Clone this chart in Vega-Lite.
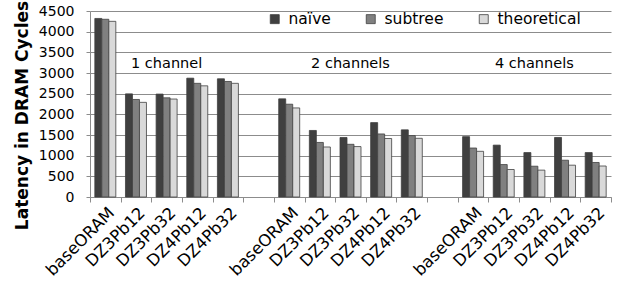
{
  "$schema": "https://vega.github.io/schema/vega-lite/v6.json",
  "width": 521,
  "height": 186,
  "autosize": {"type": "none"},
  "padding": {"left": 90, "top": 11, "right": 18, "bottom": 86},
  "background": "white",
  "config": {
    "view": {"stroke": null},
    "font": "DejaVu Sans"
  },
  "datasets": {
    "bars": [
      {"cat": "1|baseORAM", "series": "naïve", "value": 4320},
      {"cat": "1|baseORAM", "series": "subtree", "value": 4300},
      {"cat": "1|baseORAM", "series": "theoretical", "value": 4250},
      {"cat": "1|DZ3Pb12", "series": "naïve", "value": 2495},
      {"cat": "1|DZ3Pb12", "series": "subtree", "value": 2360},
      {"cat": "1|DZ3Pb12", "series": "theoretical", "value": 2290},
      {"cat": "1|DZ3Pb32", "series": "naïve", "value": 2490},
      {"cat": "1|DZ3Pb32", "series": "subtree", "value": 2400},
      {"cat": "1|DZ3Pb32", "series": "theoretical", "value": 2370},
      {"cat": "1|DZ4Pb12", "series": "naïve", "value": 2875},
      {"cat": "1|DZ4Pb12", "series": "subtree", "value": 2750},
      {"cat": "1|DZ4Pb12", "series": "theoretical", "value": 2690},
      {"cat": "1|DZ4Pb32", "series": "naïve", "value": 2860},
      {"cat": "1|DZ4Pb32", "series": "subtree", "value": 2795},
      {"cat": "1|DZ4Pb32", "series": "theoretical", "value": 2750},
      {"cat": "2|baseORAM", "series": "naïve", "value": 2375},
      {"cat": "2|baseORAM", "series": "subtree", "value": 2245},
      {"cat": "2|baseORAM", "series": "theoretical", "value": 2155},
      {"cat": "2|DZ3Pb12", "series": "naïve", "value": 1610},
      {"cat": "2|DZ3Pb12", "series": "subtree", "value": 1320},
      {"cat": "2|DZ3Pb12", "series": "theoretical", "value": 1210},
      {"cat": "2|DZ3Pb32", "series": "naïve", "value": 1440},
      {"cat": "2|DZ3Pb32", "series": "subtree", "value": 1275},
      {"cat": "2|DZ3Pb32", "series": "theoretical", "value": 1220},
      {"cat": "2|DZ4Pb12", "series": "naïve", "value": 1800},
      {"cat": "2|DZ4Pb12", "series": "subtree", "value": 1525},
      {"cat": "2|DZ4Pb12", "series": "theoretical", "value": 1415},
      {"cat": "2|DZ4Pb32", "series": "naïve", "value": 1625},
      {"cat": "2|DZ4Pb32", "series": "subtree", "value": 1485},
      {"cat": "2|DZ4Pb32", "series": "theoretical", "value": 1420},
      {"cat": "4|baseORAM", "series": "naïve", "value": 1460},
      {"cat": "4|baseORAM", "series": "subtree", "value": 1185},
      {"cat": "4|baseORAM", "series": "theoretical", "value": 1105},
      {"cat": "4|DZ3Pb12", "series": "naïve", "value": 1255},
      {"cat": "4|DZ3Pb12", "series": "subtree", "value": 785},
      {"cat": "4|DZ3Pb12", "series": "theoretical", "value": 665},
      {"cat": "4|DZ3Pb32", "series": "naïve", "value": 1075},
      {"cat": "4|DZ3Pb32", "series": "subtree", "value": 745},
      {"cat": "4|DZ3Pb32", "series": "theoretical", "value": 650},
      {"cat": "4|DZ4Pb12", "series": "naïve", "value": 1440},
      {"cat": "4|DZ4Pb12", "series": "subtree", "value": 890},
      {"cat": "4|DZ4Pb12", "series": "theoretical", "value": 770},
      {"cat": "4|DZ4Pb32", "series": "naïve", "value": 1075},
      {"cat": "4|DZ4Pb32", "series": "subtree", "value": 835},
      {"cat": "4|DZ4Pb32", "series": "theoretical", "value": 750}
    ],
    "groups": [
      {"cat": "1|DZ3Pb32", "label": "1 channel", "value": 3220},
      {"cat": "2|DZ3Pb32", "label": "2 channels", "value": 3220},
      {"cat": "4|DZ3Pb32", "label": "4 channels", "value": 3220}
    ]
  },
  "encoding": {
    "x": {
      "field": "cat",
      "type": "nominal",
      "scale": {
        "domain": ["1|baseORAM", "1|DZ3Pb12", "1|DZ3Pb32", "1|DZ4Pb12", "1|DZ4Pb32", "g1",
                   "2|baseORAM", "2|DZ3Pb12", "2|DZ3Pb32", "2|DZ4Pb12", "2|DZ4Pb32", "g2",
                   "4|baseORAM", "4|DZ3Pb12", "4|DZ3Pb32", "4|DZ4Pb12", "4|DZ4Pb32"],
        "paddingInner": 0,
        "paddingOuter": 0
      },
      "axis": {
        "title": null,
        "labelExpr": "indexof(datum.label,'|')>=0 ? split(datum.label,'|')[1] : ''",
        "labelAngle": -45,
        "labelAlign": "right",
        "labelBaseline": "middle",
        "labelFontSize": 16.5,
        "labelColor": "#000000",
        "labelPadding": 8,
        "labelOffset": 6,
        "bandPosition": 0,
        "tickBand": "extent",
        "tickSize": 5,
        "tickColor": "#8c8c8c",
        "domainColor": "#8c8c8c",
        "grid": false
      }
    },
    "y": {
      "field": "value",
      "type": "quantitative",
      "scale": {"domain": [0, 4500], "nice": false},
      "axis": {
        "title": "Latency in DRAM Cycles",
        "titleFontSize": 17,
        "titleFontWeight": "bold",
        "titleColor": "#000000",
        "titleAngle": 270,
        "titleAlign": "center",
        "titleBaseline": "middle",
        "titleX": -68,
        "titleY": 104,
        "values": [0, 500, 1000, 1500, 2000, 2500, 3000, 3500, 4000, 4500],
        "format": "d",
        "labelFontSize": 14,
        "labelColor": "#000000",
        "labelPadding": 12,
        "labelOverlap": false,
        "tickSize": 4,
        "tickColor": "#8c8c8c",
        "domainColor": "#8c8c8c",
        "grid": true,
        "gridColor": "#8c8c8c",
        "gridWidth": 1
      }
    }
  },
  "layer": [
    {
      "data": {"name": "bars"},
      "mark": {"type": "bar", "stroke": "#404040", "strokeWidth": 0.8},
      "encoding": {
        "xOffset": {
          "field": "series",
          "type": "nominal",
          "sort": ["naïve", "subtree", "theoretical"],
          "scale": {"paddingInner": 0, "paddingOuter": 0.69}
        },
        "fill": {
          "field": "series",
          "type": "nominal",
          "sort": ["naïve", "subtree", "theoretical"],
          "scale": {"domain": ["naïve", "subtree", "theoretical"], "range": ["#404040", "#808080", "#d9d9d9"]},
          "legend": {
            "title": null,
            "orient": "none",
            "direction": "horizontal",
            "legendX": 177,
            "legendY": 0,
            "symbolType": "square",
            "symbolSize": 81,
            "symbolStrokeColor": "#404040",
            "symbolStrokeWidth": 0.8,
            "labelFontSize": 15.5,
            "labelColor": "#000000",
            "labelOffset": 6,
            "columnPadding": 32
          }
        }
      }
    },
    {
      "data": {"name": "groups"},
      "mark": {"type": "text", "fontSize": 14.5, "color": "#000000", "align": "center", "baseline": "middle"},
      "encoding": {
        "text": {"field": "label"}
      }
    }
  ]
}
